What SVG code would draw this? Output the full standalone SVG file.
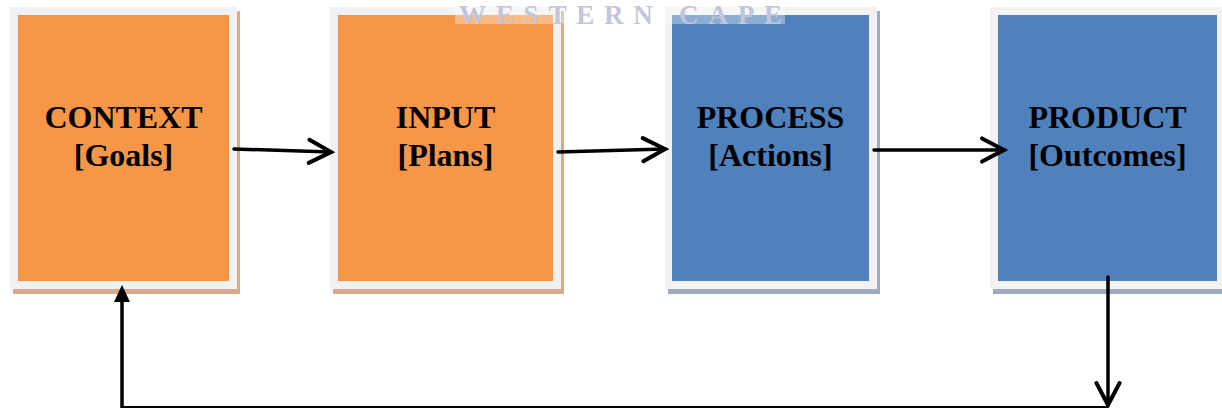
<svg xmlns="http://www.w3.org/2000/svg" width="1222" height="408" viewBox="0 0 1222 408">
  <style>
    .frame { fill: #f2f2f2; }
    .warm .fill { fill: #f79646; }
    .warm .shadow { fill: #d6aa8a; }
    .cool .fill { fill: #4f81bd; }
    .cool .shadow { fill: #9eabbf; }
    .label { font-family: "Liberation Serif", "Times New Roman", serif; font-weight: bold; font-size: 32px; fill: #000; text-anchor: middle; }
    .link { fill: none; stroke: #000; stroke-width: 3.5; stroke-linecap: round; }
    .thin { fill: none; stroke: #000; stroke-width: 2; }
    .mark { font-family: "Liberation Serif", "Times New Roman", serif; font-weight: bold; font-size: 27px; fill: #c3c6da; }
  </style>
  <defs>
    <marker id="chevron" markerUnits="userSpaceOnUse" markerWidth="30" markerHeight="30" viewBox="-22 -13 26 26" refX="0" refY="0" orient="auto" overflow="visible">
      <path d="M-19,-10 L0,0 L-19,10" fill="none" stroke="#000" stroke-width="3.5" stroke-linecap="round" stroke-linejoin="miter"/>
    </marker>
  </defs>

  <rect width="1222" height="408" fill="#ffffff"/>

  <!-- CONTEXT -->
  <g id="context" class="warm">
    <rect class="shadow" x="13" y="11" width="227" height="283"/>
    <rect class="frame" x="10" y="7" width="227" height="282"/>
    <rect class="fill" x="18" y="15" width="211" height="266"/>
    <text class="label" x="123.5" y="128">CONTEXT</text>
    <text class="label" x="123.5" y="166">[Goals]</text>
  </g>

  <!-- INPUT -->
  <g id="input" class="warm">
    <rect class="shadow" x="333" y="11" width="231" height="283"/>
    <rect class="frame" x="330" y="7" width="231" height="282"/>
    <rect class="fill" x="338" y="15" width="215" height="266"/>
    <text class="label" x="445.5" y="128">INPUT</text>
    <text class="label" x="445.5" y="166">[Plans]</text>
  </g>

  <!-- PROCESS -->
  <g id="process" class="cool">
    <rect class="shadow" x="668" y="11" width="212" height="283"/>
    <rect class="frame" x="665" y="7" width="212" height="282"/>
    <rect class="fill" x="672" y="15" width="197" height="266"/>
    <text class="label" x="770.5" y="128">PROCESS</text>
    <text class="label" x="770.5" y="166">[Actions]</text>
  </g>

  <!-- PRODUCT -->
  <g id="product" class="cool">
    <rect class="shadow" x="993" y="11" width="232" height="283"/>
    <rect class="frame" x="990" y="7" width="232" height="282"/>
    <rect class="fill" x="998" y="15" width="219" height="266"/>
    <text class="label" x="1107.5" y="128">PRODUCT</text>
    <text class="label" x="1107.5" y="166">[Outcomes]</text>
  </g>

  <!-- connectors -->
  <g id="connectors">
    <line class="link" x1="234" y1="149" x2="331" y2="152" marker-end="url(#chevron)"/>
    <line class="link" x1="558" y1="152" x2="665" y2="149" marker-end="url(#chevron)"/>
    <line class="link" x1="874" y1="150" x2="1004" y2="150" marker-end="url(#chevron)"/>
    <line class="link" x1="1108" y1="277" x2="1108" y2="405" marker-end="url(#chevron)"/>
    <line class="thin" x1="1108" y1="407" x2="121" y2="407"/>
    <line class="link" x1="122" y1="408" x2="122" y2="300" stroke-linecap="butt"/>
    <polygon points="122,285 114,302 130,302" fill="#000"/>
  </g>

  <!-- watermark band at the top edge -->
  <g id="watermark">
    <rect x="455" y="0" width="330" height="24" fill="#ffffff" opacity="0.35"/>
    <text class="mark" x="459" y="24" textLength="323" lengthAdjust="spacing">WESTERN CAPE</text>
  </g>
</svg>
